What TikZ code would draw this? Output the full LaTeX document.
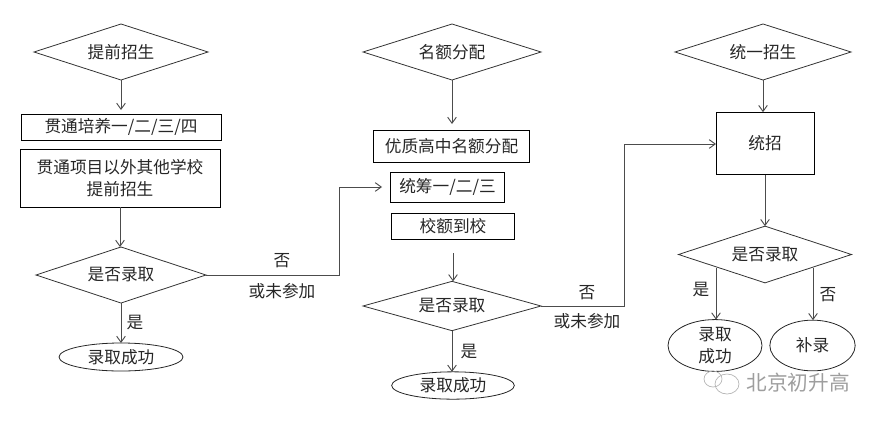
\documentclass[tikz,border=0pt]{standalone}
\usepackage{fontspec}
\setmainfont{Noto Sans CJK SC}
\usetikzlibrary{shapes.geometric,arrows.meta}
\tikzset{
  every node/.style={inner sep=0pt,outer sep=0pt,font=\fontsize{12.5pt}{16.5pt}\selectfont,align=center,text=black!85},
  decide/.style={diamond,draw=black!80,line width=0.6pt,aspect=3,minimum width=#1*0.75pt},
  proc/.style={rectangle,draw=black,line width=0.7pt},
  term/.style={ellipse,draw=black!85,line width=0.6pt},
  conn/.style={draw=black!70,line width=0.7pt,-{Straight Barb[length=4.5pt,width=6.5pt]}},
  plain/.style={draw=black!70,line width=0.7pt},
  tag/.style={font=\fontsize{12.5pt}{16.5pt}\selectfont},
  wm/.style={text=black!38,font=\fontsize{15.5pt}{18pt}\selectfont},
  wmline/.style={draw=black!30,line width=0.5pt}
}
\begin{document}
\begin{tikzpicture}[x=0.75pt,y=-0.75pt]
\useasboundingbox (0,0) rectangle (880,421);
% left column
\node[decide=174,minimum height=42pt] (d1) at (121,52) {提前招生};
\node[proc,minimum width=150pt,minimum height=19.5pt] (b1) at (121,127) {贯通培养一/二/三/四};
\node[proc,minimum width=150pt,minimum height=43.5pt] (b2) at (120,178) {贯通项目以外其他学校\\提前招生};
\node[decide=170,minimum height=42pt] (d2) at (121,275) {是否录取};
\node[term,minimum width=93pt,minimum height=21pt] (e1) at (121,357) {录取成功};
\node[tag] (n1) at (282,261) {否};
\node[tag] (n2) at (282,291) {或未参加};
\node[tag] (y1) at (135,323) {是};
% middle column
\node[decide=178,minimum height=42pt] (d3) at (452,52) {名额分配};
\node[proc,minimum width=117.5pt,minimum height=24pt] (b3) at (451.5,146) {优质高中名额分配};
\node[proc,minimum width=86pt,minimum height=22.5pt] (b4) at (447.5,187) {统筹一/二/三};
\node[proc,minimum width=92pt,minimum height=19.5pt] (b5) at (453,226) {校额到校};
\node[decide=178,minimum height=37pt] (d4) at (452,306) {是否录取};
\node[term,minimum width=92pt,minimum height=20.5pt] (e2) at (453,385.5) {录取成功};
\node[tag] (n3) at (587,293) {否};
\node[tag] (n4) at (587,321) {或未参加};
\node[tag] (y2) at (469,352) {是};
% right column
\node[decide=176,minimum height=42pt] (d5) at (763,52) {统一招生};
\node[proc,minimum width=73.5pt,minimum height=47pt] (b6) at (765,143.5) {统招};
\node[decide=173,minimum height=42.5pt] (d6) at (765,254.5) {是否录取};
\node[term,minimum width=70.5pt,minimum height=38pt] (e3) at (715,345.5) {录取\\成功};
\node[term,minimum width=64pt,minimum height=38pt] (e4) at (812.5,345.5) {补录};
\node[tag] (y3) at (701,290) {是};
\node[tag] (n5) at (828,295) {否};
% connector helper points
\coordinate (s1) at (121,110);
\coordinate (s2) at (452,124);
\coordinate (s3) at (453,253);
\coordinate (c1) at (339,275);
\coordinate (c2) at (339,187);
\coordinate (c3) at (382,187);
\coordinate (c4) at (624,306);
\coordinate (c5) at (624,144);
\coordinate (p1) at (716,268);
\coordinate (p2) at (813,268);
% connectors
\draw[conn] (d1.south) -- (s1);
\draw[conn] (b2.south) -- (d2.north -| b2.south);
\draw[conn] (d2.south) -- (e1.north);
\draw[plain] (d2.east) -- (c1) -- (c2);
\draw[conn] (c2) -- (c3);
\draw[conn] (d3.south) -- (s2);
\draw[conn] (s3) -- (d4.north -| s3);
\draw[conn] (d4.south) -- (d4.south |- e2.north);
\draw[plain] (d4.east) -- (c4) -- (c5);
\draw[conn] (c5) -- (b6.west |- c5);
\draw[conn] (d5.south) -- (d5.south |- b6.north);
\draw[conn] (b6.south) -- (d6.north);
\draw[conn] (p1) -- (p1 |- e3.north);
\draw[conn] (p2) -- (p2 |- e4.north);
% watermark
\node[wm] (wmt) at (798,383) {北京初升高};
\draw[wmline] (727,384) ellipse [x radius=12, y radius=10];
\draw[wmline] (713,379) ellipse [x radius=9, y radius=8];
\end{tikzpicture}
\end{document}
